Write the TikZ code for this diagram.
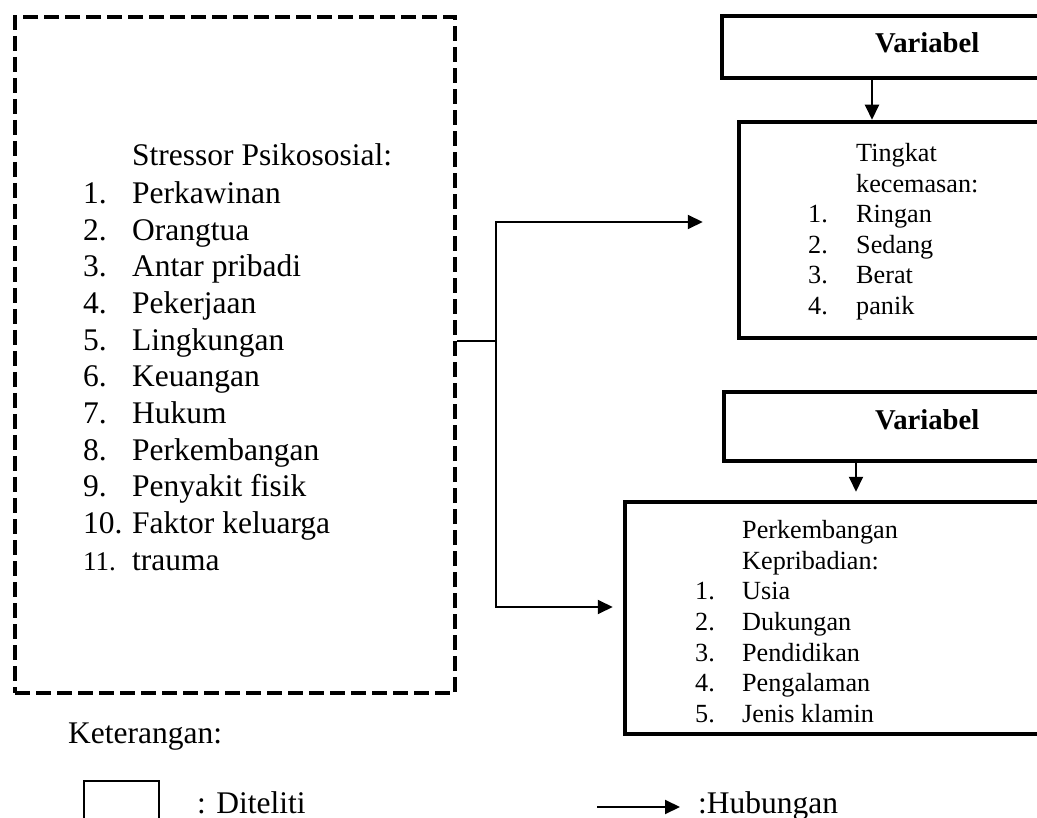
\documentclass[tikz,border=0pt]{standalone}
\usepackage{fontspec}
\setmainfont{Liberation Serif}
\usetikzlibrary{arrows.meta}
\newcommand\myLfont{\fontsize{31.5}{36.7}\selectfont}
\newcommand\myRfont{\fontsize{26.2}{30.6}\selectfont}
\newcommand\myBfont{\fontsize{28.7}{32}\selectfont\bfseries}
\begin{document}
\begin{tikzpicture}[x=1pt,y=-1pt,
  dashbox/.style={draw, line width=4.5pt, dash pattern=on 15pt off 6pt, inner sep=0pt},
  thickbox/.style={draw, line width=4.5pt, inner sep=0pt},
  thinbox/.style={draw, line width=2pt, inner sep=0pt},
  txt/.style={inner sep=0pt, anchor=base west},
  conn/.style={line width=2pt},
  arr/.style={line width=2pt, -{Triangle[length=15pt,width=14pt]}}]
\useasboundingbox (0,0) rectangle (1037,818);
\clip (0,0) rectangle (1037,818);

% boxes
\node[dashbox, minimum width=440pt, minimum height=676pt] (stress) at (235,355) {};
\node[thickbox, minimum width=326pt, minimum height=62pt] (var1) at (885,47) {};
\node[thickbox, minimum width=309pt, minimum height=216pt] (tk) at (893.5,230) {};
\node[thickbox, minimum width=324pt, minimum height=69pt] (var2) at (886,426.5) {};
\node[thickbox, minimum width=423pt, minimum height=232pt] (perk) at (836.5,618) {};
\node[thinbox, minimum width=75pt, minimum height=49pt] (legbox) at (121.5,805.5) {};

% texts
\node[txt] (stresst) at (83,165.4) {\myLfont\begin{tabular}[t]{@{}p{49pt}@{}l@{}}
 & Stressor Psikososial:\\[1.3pt]
1. & Perkawinan\\
2. & Orangtua\\
3. & Antar pribadi\\
4. & Pekerjaan\\
5. & Lingkungan\\
6. & Keuangan\\
7. & Hukum\\
8. & Perkembangan\\
9. & Penyakit fisik\\
10. & Faktor keluarga\\
{\fontsize{27}{36.7}\selectfont 11.} & trauma
\end{tabular}};

\node[txt] (var1t) at (875,52.5) {\myBfont Variabel};
\node[txt] (var2t) at (875,429.5) {\myBfont Variabel};

\node[txt] (tkt) at (808,161.6) {\myRfont\begin{tabular}[t]{@{}p{48pt}@{}l@{}}
 & Tingkat\\
 & kecemasan:\\
1. & Ringan\\
2. & Sedang\\
3. & Berat\\
4. & panik
\end{tabular}};

\node[txt] (perkt) at (695,538.6) {\myRfont\begin{tabular}[t]{@{}p{47pt}@{}l@{}}
 & Perkembangan\\
 & Kepribadian:\\
1. & Usia\\
2. & Dukungan\\
3. & Pendidikan\\
4. & Pengalaman\\
5. & Jenis klamin
\end{tabular}};

\node[txt] (ket) at (68,743) {\myLfont Keterangan:};
\node[txt] (dit) at (197,813) {\myLfont : Diteliti};
\node[txt] (hub) at (698,813) {\myLfont :Hubungan};

% connectors
\coordinate (j) at (496,341);
\coordinate (yA) at (0,222);
\coordinate (yB) at (0,607);
\coordinate (a1) at (872,0);
\coordinate (a2) at (856,0);
\coordinate (h1) at (597,807);

\draw[conn] (stress.east |- j) -- (j);
\draw[arr, shorten >=34pt] (j) |- (tk.west |- yA);
\draw[arr, shorten >=10pt] (j) |- (perk.west |- yB);
\draw[arr] (var1.south -| a1) -- (tk.north -| a1);
\draw[arr, shorten >=8pt] (var2.south -| a2) -- (perk.north -| a2);
\draw[arr, shorten >=18pt] (h1) -- (hub.west |- h1);
\end{tikzpicture}
\end{document}
